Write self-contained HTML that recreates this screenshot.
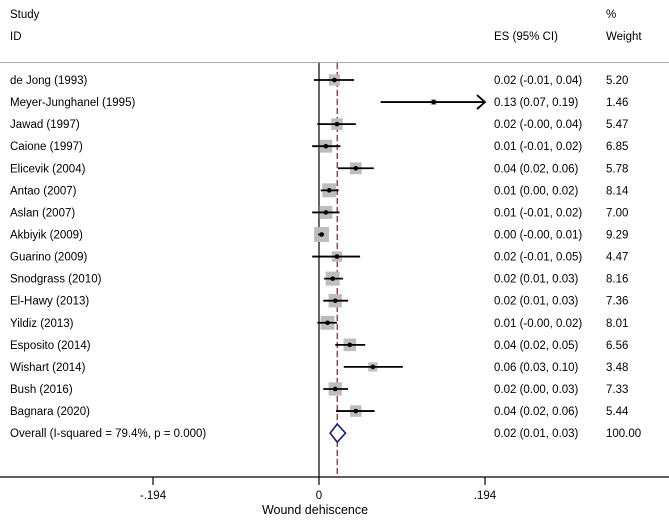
<!DOCTYPE html>
<html><head><meta charset="utf-8"><style>
body{margin:0;background:#fff;}
svg{display:block;font-family:"Liberation Sans",Arial,sans-serif;font-size:11.5px;}
</style></head><body>
<svg id="chart" width="669" height="521" viewBox="0 0 669 521">
<text x="10" y="18">Study</text>
<text x="10" y="40">ID</text>
<text x="494" y="40">ES (95% CI)</text>
<text x="606" y="18">%</text>
<text x="606" y="40">Weight</text>
<line x1="0" y1="62.5" x2="669" y2="62.5" stroke="#aaa" stroke-width="1"/>
<g id="rows"></g>
<g id="axis"></g>
</svg>
<script>
const studies=["de Jong (1993)","Meyer-Junghanel (1995)","Jawad (1997)","Caione (1997)","Elicevik (2004)","Antao (2007)","Aslan (2007)","Akbiyik (2009)","Guarino (2009)","Snodgrass (2010)","El-Hawy (2013)","Yildiz (2013)","Esposito (2014)","Wishart (2014)","Bush (2016)","Bagnara (2020)"];
const es=[0.018,0.134,0.021,0.008,0.043,0.012,0.008,0.003,0.021,0.016,0.019,0.010,0.036,0.063,0.019,0.043];
const lo=[-0.006,0.072,-0.002,-0.008,0.022,0.002,-0.008,-0.001,-0.008,0.006,0.005,-0.002,0.019,0.029,0.005,0.020];
const hi=[0.041,0.196,0.043,0.025,0.064,0.023,0.024,0.006,0.048,0.028,0.034,0.021,0.054,0.098,0.034,0.065];
const esLabels=["0.02 (-0.01, 0.04)","0.13 (0.07, 0.19)","0.02 (-0.00, 0.04)","0.01 (-0.01, 0.02)","0.04 (0.02, 0.06)","0.01 (0.00, 0.02)","0.01 (-0.01, 0.02)","0.00 (-0.00, 0.01)","0.02 (-0.01, 0.05)","0.02 (0.01, 0.03)","0.02 (0.01, 0.03)","0.01 (-0.00, 0.02)","0.04 (0.02, 0.05)","0.06 (0.03, 0.10)","0.02 (0.00, 0.03)","0.04 (0.02, 0.06)"];
const weights=[5.20,1.46,5.47,6.85,5.78,8.14,7.00,9.29,4.47,8.16,7.36,8.01,6.56,3.48,7.33,5.44];
const overall=[0.0213,0.013,0.031];
const overallLabel="0.02 (0.01, 0.03)";
const ticks=[-0.194,0,0.194];
const tickLabels=["-.194","0",".194"];
const xmin=-0.194,xmax=0.194;
const X=v=>319+(v-0)*(166/0.194);
const Y=i=>80+i*22.07;
const NS="http://www.w3.org/2000/svg";
function mk(t,a,p){const e=document.createElementNS(NS,t);for(const k in a)e.setAttribute(k,a[k]);p.appendChild(e);return e;}
const svg=document.getElementById('chart'),rows=document.getElementById('rows'),ax=document.getElementById('axis');
const yO=Y(studies.length);
let l=mk('line',{x1:X(0),y1:63,x2:X(0),y2:477,stroke:'#000','stroke-width':1.2},rows);


l=mk('line',{x1:X(overall[0]),y1:63,x2:X(overall[0]),y2:477,stroke:'#8b1a1a','stroke-width':1.2,'stroke-dasharray':'6,3'},rows);


studies.forEach((s,i)=>{
 const y=Y(i);
 let t=mk('text',{x:10,y:y+4},rows);t.textContent=s;
 
 
 const sz=4.9*Math.sqrt(weights[i]);
 let b=mk('rect',{x:X(es[i])-sz/2,y:y-sz/2,width:sz,height:sz,fill:'#bdbdbd'},rows);
 
 
 const h=Math.min(hi[i],xmax);
 let c=mk('line',{x1:X(lo[i]),y1:y,x2:X(h),y2:y,stroke:'#000','stroke-width':1.8},rows);
 
 
 if(hi[i]>xmax){let a=mk('path',{d:`M${X(h)-8},${y-7} L${X(h)},${y} L${X(h)-8},${y+7}`,fill:'none',stroke:'#000','stroke-width':1.8},rows);
  
  }
 let p=mk('circle',{cx:X(es[i]),cy:y,r:2.3,fill:'#000'},rows);
 
 
 t=mk('text',{x:494,y:y+4},rows);t.textContent=esLabels[i];
 
 
 t=mk('text',{x:606,y:y+4},rows);t.textContent=weights[i].toFixed(2);
 
 
});
let t=mk('text',{x:10,y:yO+4},rows);t.textContent="Overall  (I-squared = 79.4%, p = 0.000)";


let d=mk('path',{d:`M${X(overall[1])},${yO} L${X(overall[0])},${yO-9} L${X(overall[2])},${yO} L${X(overall[0])},${yO+9} Z`,fill:'#fff',stroke:'#1a1a7a','stroke-width':1.6},rows);


t=mk('text',{x:494,y:yO+4},rows);t.textContent=overallLabel;


t=mk('text',{x:606,y:yO+4},rows);t.textContent="100.00";


l=mk('line',{x1:0,y1:477,x2:669,y2:477,stroke:'#000','stroke-width':1.3},ax);


ticks.forEach((v,i)=>{
 let k=mk('line',{x1:X(v),y1:477,x2:X(v),y2:485,stroke:'#000','stroke-width':1.2},ax);
 
 
 let tl=mk('text',{x:X(v),y:499,'text-anchor':'middle'},ax);tl.textContent=tickLabels[i];
 
 
});
t=mk('text',{x:315,y:514,'text-anchor':'middle','font-size':'12.5'},ax);t.textContent="Wound dehiscence";


</script>
</body></html>
